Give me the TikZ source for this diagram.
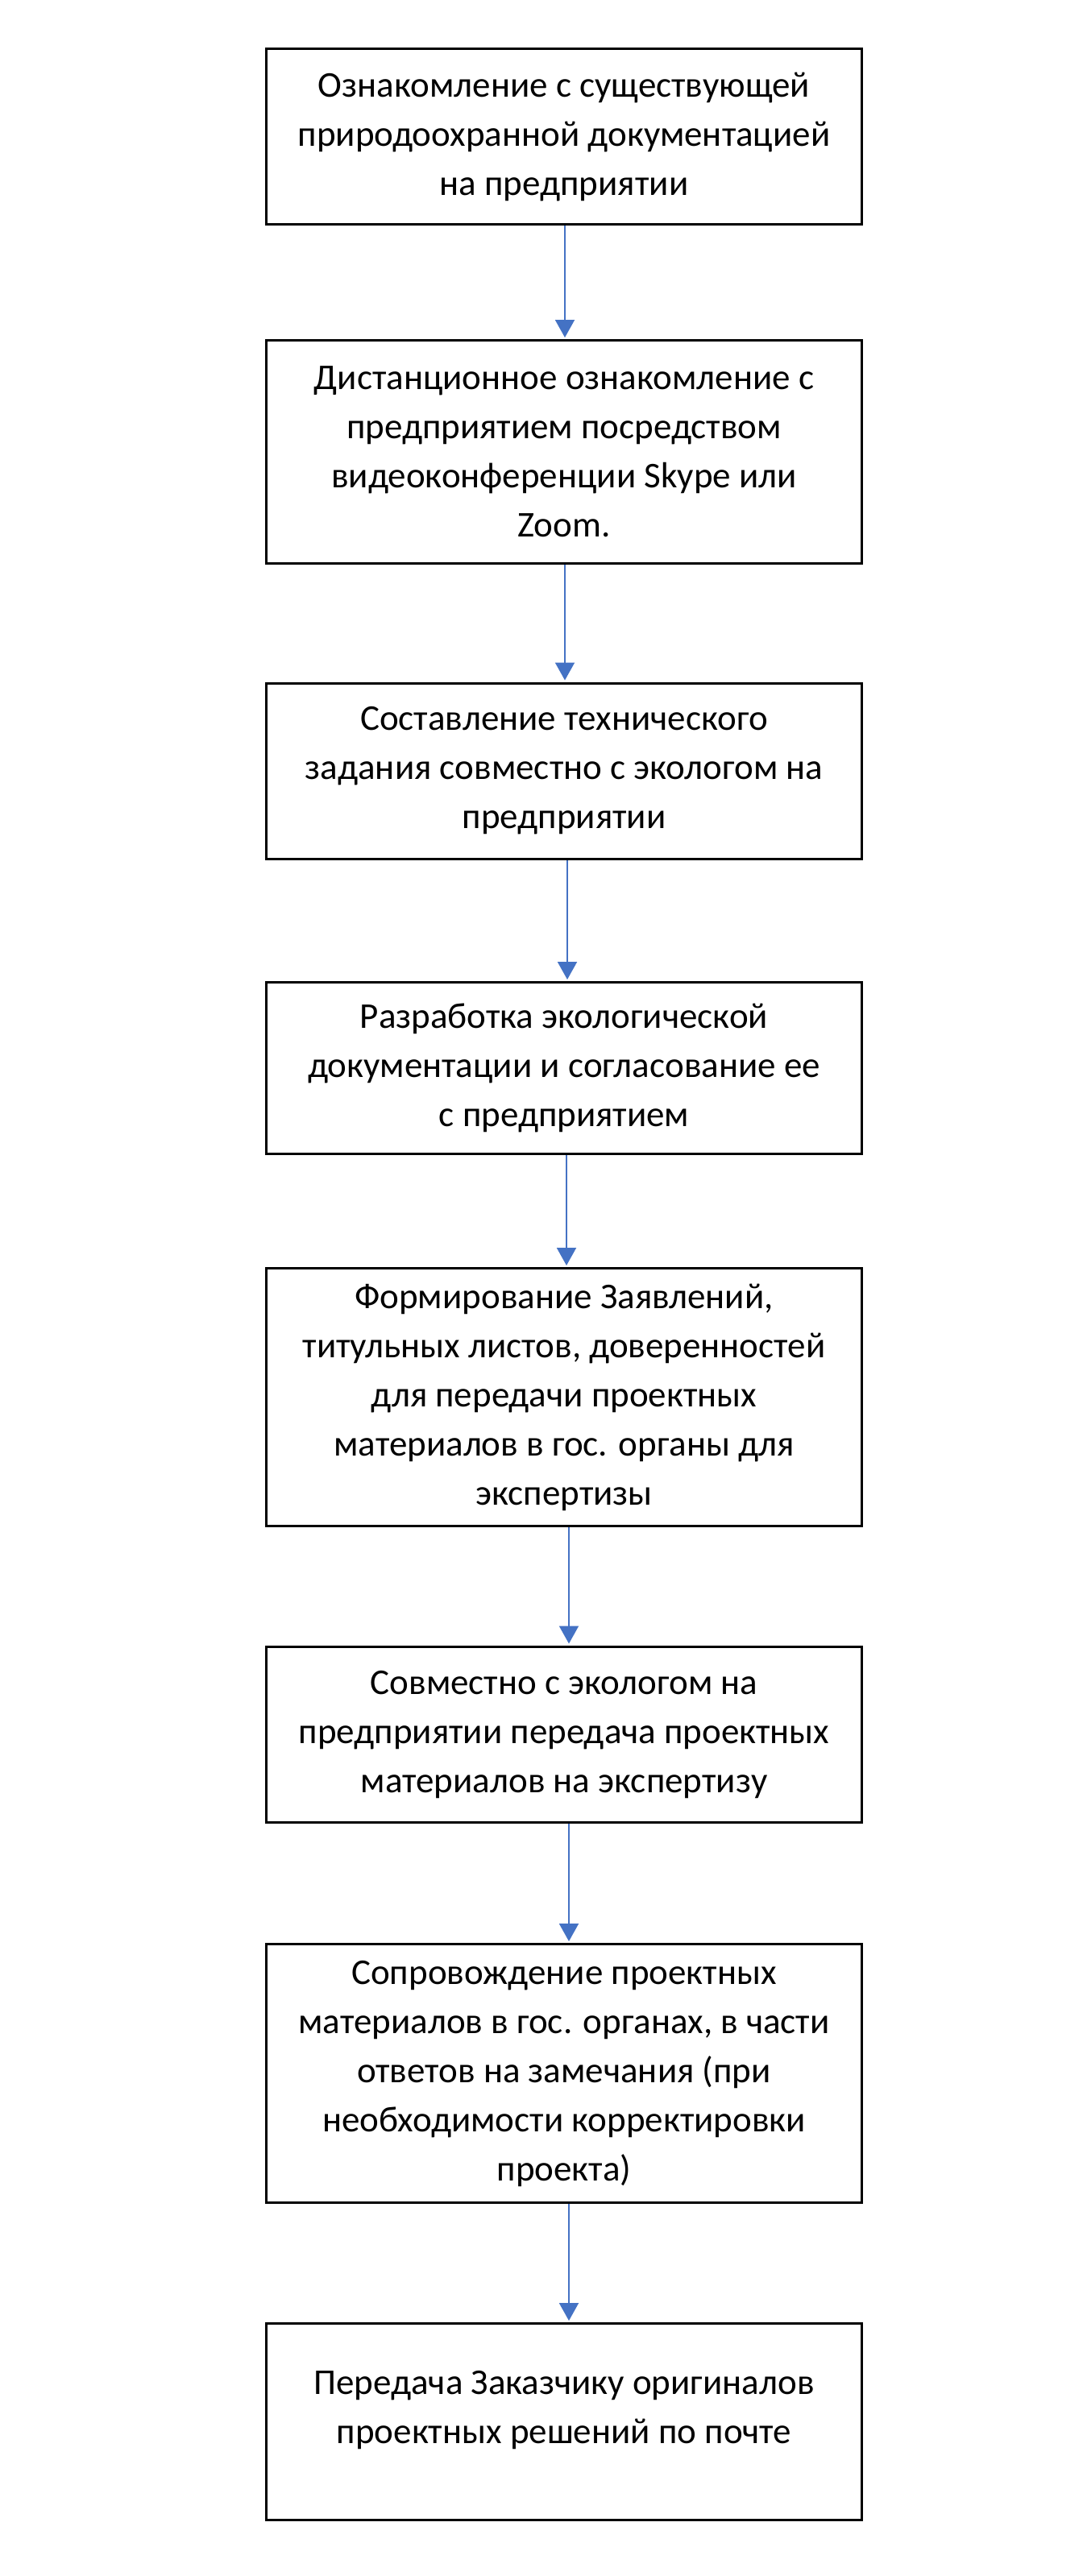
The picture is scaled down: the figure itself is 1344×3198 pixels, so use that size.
\documentclass[tikz,border=0pt]{standalone}
\usepackage{fontspec}
\setmainfont{Carlito}
\usetikzlibrary{arrows.meta}
\definecolor{arrowblue}{HTML}{4472C4}
\tikzset{
  stepbox/.style={draw=black, line width=1.5pt, minimum width=369.5pt, inner sep=0pt, fill=white},
  steptext/.style={align=center, inner sep=0pt, font=\fontsize{22.5pt}{30.5pt}\selectfont},
  flowarrow/.style={draw=arrowblue, line width=1pt, -{Triangle[width=12pt,length=11pt]}, shorten >=1pt}
}
\begin{document}
\begin{tikzpicture}[x=0.5pt,y=-0.5pt]
\useasboundingbox[fill=white] (0,0) rectangle (1344,3198);
% boxes
\node[stepbox, minimum height=109pt]   (b1) at (700,169.5) {};
\node[stepbox, minimum height=138.5pt] (b2) at (700,561) {};
\node[stepbox, minimum height=109pt]   (b3) at (700,957) {};
\node[stepbox, minimum height=106.5pt] (b4) at (700,1326) {};
\node[stepbox, minimum height=160pt]   (b5) at (700,1734.5) {};
\node[stepbox, minimum height=109pt]   (b6) at (700,2153) {};
\node[stepbox, minimum height=160.5pt] (b7) at (700,2574) {};
\node[stepbox, minimum height=122pt]   (b8) at (700,3006.5) {};
% texts
\node[steptext] (t1) at (b1.center) {Ознакомление с существующей\\природоохранной документацией\\на предприятии};
\node[steptext] (t2) at (b2.center) {Дистанционное ознакомление с\\предприятием посредством\\видеоконференции Skype или\\Zoom.};
\node[steptext] (t3) at (b3.center) {Составление технического\\задания совместно с экологом на\\предприятии};
\node[steptext] (t4) at (b4.center) {Разработка экологической\\документации и согласование ее\\с предприятием};
\node[steptext] (t5) at (b5.center) {Формирование Заявлений,\\титульных листов, доверенностей\\для передачи проектных\\материалов в гос. органы для\\экспертизы};
\node[steptext] (t6) at (b6.center) {Совместно с экологом на\\предприятии передача проектных\\материалов на экспертизу};
\node[steptext] (t7) at (b7.center) {Сопровождение проектных\\материалов в гос. органах, в части\\ответов на замечания (при\\необходимости корректировки\\проекта)};
\node[steptext] (t8) at (700,2992) {Передача Заказчику оригиналов\\проектных решений по почте};
% arrows
\draw[flowarrow] ([xshift=0.5pt]b1.south) -- ([xshift=0.5pt]b2.north);
\draw[flowarrow] ([xshift=0.5pt]b2.south) -- ([xshift=0.5pt]b3.north);
\draw[flowarrow] ([xshift=2pt]b3.south) -- ([xshift=2pt]b4.north);
\draw[flowarrow] ([xshift=1.5pt]b4.south) -- ([xshift=1.5pt]b5.north);
\draw[flowarrow] ([xshift=3pt]b5.south) -- ([xshift=3pt]b6.north);
\draw[flowarrow] ([xshift=3pt]b6.south) -- ([xshift=3pt]b7.north);
\draw[flowarrow] ([xshift=3pt]b7.south) -- ([xshift=3pt]b8.north);
\end{tikzpicture}
\end{document}
